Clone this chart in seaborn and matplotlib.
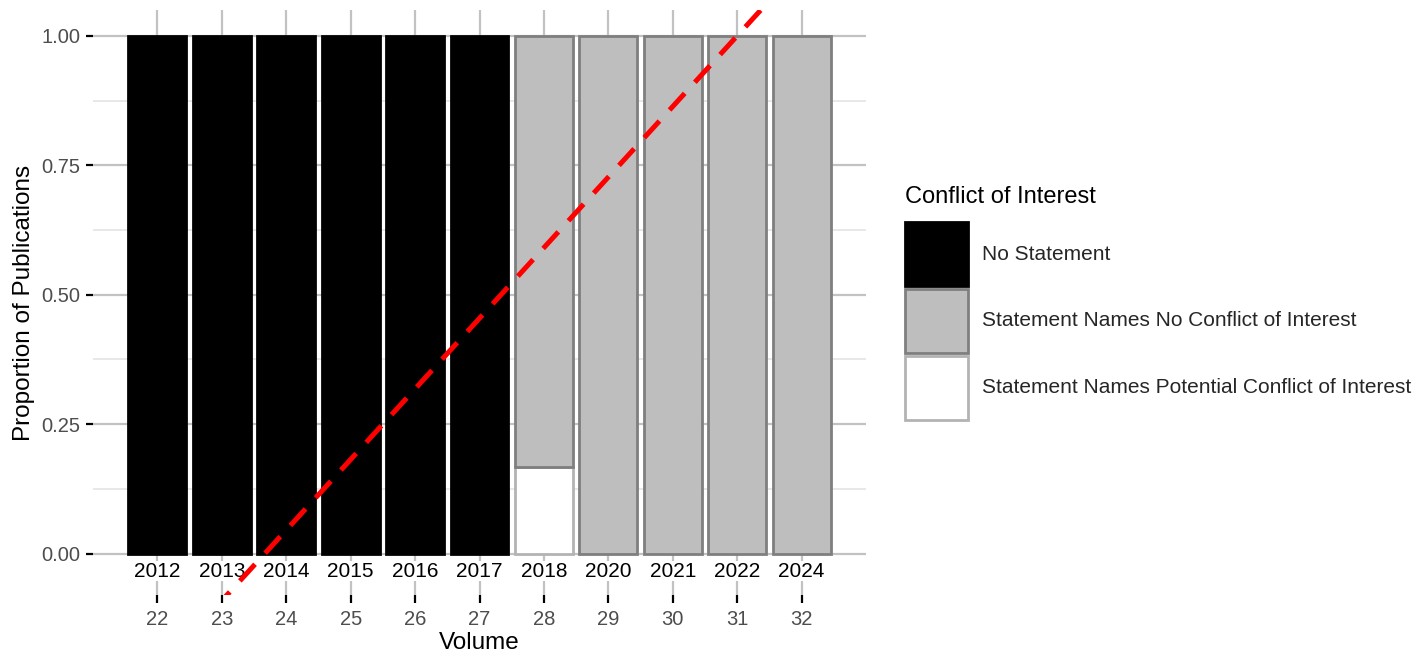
import numpy as np
import pandas as pd
import matplotlib
matplotlib.use('Agg')
import matplotlib.pyplot as plt
from matplotlib.patches import Patch
import seaborn as sns

volumes = [22, 23, 24, 25, 26, 27, 28, 29, 30, 31, 32]
years = ['2012', '2013', '2014', '2015', '2016', '2017', '2018', '2020', '2021', '2022', '2024']
no_statement = [1, 1, 1, 1, 1, 1, 0, 0, 0, 0, 0]
names_no_conflict = [0, 0, 0, 0, 0, 0, 0.833, 1, 1, 1, 1]
names_potential = [0, 0, 0, 0, 0, 0, 0.167, 0, 0, 0, 0]

categories = ['No Statement',
              'Statement Names No Conflict of Interest',
              'Statement Names Potential Conflict of Interest']
fills = ['black', '#bebebe', 'white']
edges = ['black', '#7f7f7f', '#b3b3b3']

# long table for the stacked bars
df = pd.DataFrame({
    'volume': volumes * 3,
    'category': [categories[0]] * 11 + [categories[1]] * 11 + [categories[2]] * 11,
    'prop': no_statement + names_no_conflict + names_potential,
})
# any statement at all -> used for the linear trend
has_statement = [1 - v for v in no_statement]

sns.set_theme(style='white')
plt.rcParams['font.family'] = ['Liberation Sans', 'DejaVu Sans']

fig = plt.figure(figsize=(14.17, 6.63), dpi=100)
ax = fig.add_axes([93/1417, 1 - 595/663, (866 - 93)/1417, (595 - 10)/663])

sns.histplot(data=df, x='volume', weights='prop', hue='category', hue_order=categories,
             multiple='stack', discrete=True, shrink=0.9, alpha=1,
             palette=dict(zip(categories, fills)), legend=False, ax=ax, zorder=2)

# edge colours per fill, hide zero-height bars
edge_of = {matplotlib.colors.to_hex(f): e for f, e in zip(fills, edges)}
for p in ax.patches:
    fc = matplotlib.colors.to_hex(p.get_facecolor())
    p.set_edgecolor(edge_of.get(fc, 'black'))
    p.set_linewidth(2.0 if p.get_height() > 1e-9 else 0)

ax.set_xlim(21, 33)
ax.set_ylim(-0.08, 1.05)
sns.regplot(x=volumes, y=has_statement, scatter=False, ci=None, truncate=False,
            color='red', line_kws=dict(lw=3.6, dashes=(4.5, 3), zorder=5), ax=ax)
ax.set_xlim(21, 33)
ax.set_ylim(-0.08, 1.05)

for v, yr in zip(volumes, years):
    ax.text(v, -0.034, yr, ha='center', va='center', fontsize=15, color='black', zorder=3,
            bbox=dict(facecolor='white', edgecolor='none', pad=0.5))

ax.set_xticks(volumes)
ax.set_xticklabels([str(v) for v in volumes])
ax.set_yticks([0, 0.25, 0.5, 0.75, 1.0])
ax.set_yticklabels(['0.00', '0.25', '0.50', '0.75', '1.00'])
ax.set_yticks([0.125, 0.375, 0.625, 0.875], minor=True)
ax.grid(axis='y', which='major', color='#c2c2c2', lw=1.6)
ax.grid(axis='y', which='minor', color='#e4e4e4', lw=1.2)
ax.grid(axis='x', which='major', color='#c2c2c2', lw=1.6)
ax.set_axisbelow(True)
for s in ax.spines.values():
    s.set_visible(False)

ax.tick_params(axis='y', which='major', left=True, length=5, width=1.6, color='black',
               pad=4, labelsize=14.5, labelcolor='#4d4d4d')
ax.tick_params(axis='x', which='major', bottom=True, length=6, width=1.6, color='black',
               pad=5, labelsize=14.5, labelcolor='#4d4d4d')
ax.tick_params(which='minor', length=0)

ax.set_xlabel('Volume', fontsize=17.5, color='black', labelpad=2)
ax.set_ylabel('Proportion of Publications', fontsize=17.5, color='black', labelpad=5)

# legend title as its own text so its gap to the keys can be set
fig.text(905/1417, 1 - 197/663, 'Conflict of Interest', ha='left', va='center',
         fontsize=17, color='black')
handles = [Patch(facecolor=f, edgecolor=e, lw=2) for f, e in zip(fills, edges)]
fig.legend(handles, categories, loc='center left',
           bbox_to_anchor=(905/1417, 1 - 321/663), frameon=False, fontsize=15,
           handlelength=3.0, handleheight=4.3, handletextpad=0.72,
           labelspacing=0.17, borderpad=0, borderaxespad=0)

fig.savefig('out.png', dpi=100)
